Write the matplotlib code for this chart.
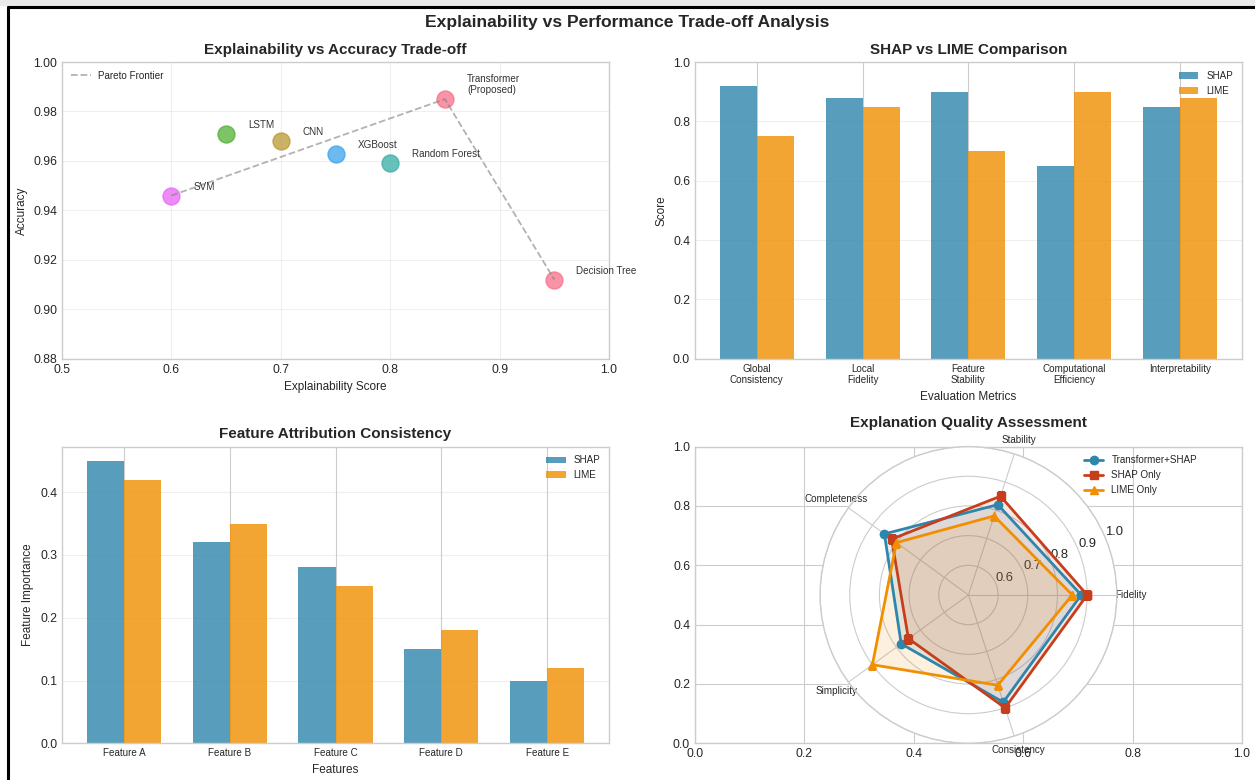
import numpy as np
import matplotlib
matplotlib.use('Agg')
import matplotlib.pyplot as plt
from matplotlib.lines import Line2D
from matplotlib.patches import Rectangle

# Model trade-off data
models = ['Transformer\n(Proposed)', 'CNN', 'LSTM', 'Random Forest', 'XGBoost', 'SVM', 'Decision Tree']
explainability = [0.85, 0.70, 0.65, 0.80, 0.75, 0.60, 0.95]
accuracy = [0.985, 0.968, 0.971, 0.959, 0.963, 0.946, 0.912]
pareto_models = ['SVM', 'Transformer\n(Proposed)', 'Decision Tree']

# SHAP vs LIME metrics
metrics = ['Global\nConsistency', 'Local\nFidelity', 'Feature\nStability',
           'Computational\nEfficiency', 'Interpretability']
shap_scores = [0.92, 0.88, 0.90, 0.65, 0.85]
lime_scores = [0.75, 0.85, 0.70, 0.90, 0.88]

# Feature attribution
features = ['Feature A', 'Feature B', 'Feature C', 'Feature D', 'Feature E']
shap_importance = [0.45, 0.32, 0.28, 0.15, 0.10]
lime_importance = [0.42, 0.35, 0.25, 0.18, 0.12]

# Radar quality assessment
quality_dims = ['Fidelity', 'Stability', 'Completeness', 'Simplicity', 'Consistency']
transformer_shap = [0.88, 0.82, 0.85, 0.78, 0.88]
shap_only = [0.90, 0.85, 0.82, 0.75, 0.90]
lime_only = [0.85, 0.78, 0.80, 0.90, 0.82]

plt.style.use('seaborn-v0_8-whitegrid')
plt.rcParams['font.family'] = ['Liberation Sans', 'DejaVu Sans']

c_shap = '#2E86AB'
c_lime = '#F18F01'
c_red = '#C73E1D'
husl6 = ['#f77189', '#bb9832', '#50b131', '#36ada4', '#3ba3ec', '#e866f4']

TITLE = 11.0
LABEL = 8.5
TICK = 8.8
SMALL = 7.1

fig = plt.figure(figsize=(12.55, 7.80), dpi=100)
fig.subplots_adjust(left=0.0494, right=0.9896, top=0.9205, bottom=0.047,
                    wspace=0.157, hspace=0.296)
fig.suptitle('Explainability vs Performance Trade-off Analysis',
             fontsize=12.6, fontweight='bold', y=0.981)

# (1) scatter with pareto frontier
ax1 = fig.add_subplot(2, 2, 1)
for i, m in enumerate(models):
    ax1.scatter(explainability[i], accuracy[i], s=150, color=husl6[i % len(husl6)], alpha=0.75)
    ax1.annotate(m, (explainability[i], accuracy[i]), xytext=(22, 6),
                 textcoords='offset pixels', fontsize=SMALL, color='#333333')
px = [explainability[models.index(m)] for m in pareto_models]
py = [accuracy[models.index(m)] for m in pareto_models]
ax1.plot(px, py, '--', color='gray', alpha=0.6, linewidth=1.3, label='Pareto Frontier')
ax1.set_xlim(0.5, 1.0)
ax1.set_ylim(0.88, 1.0)
ax1.set_xlabel('Explainability Score', fontsize=LABEL)
ax1.set_ylabel('Accuracy', fontsize=LABEL)
ax1.set_title('Explainability vs Accuracy Trade-off', fontsize=TITLE, fontweight='bold')
ax1.legend(loc='upper left', fontsize=SMALL)
ax1.grid(True, alpha=0.3)
ax1.tick_params(labelsize=TICK)

width = 0.35

# (2) SHAP vs LIME comparison
ax2 = fig.add_subplot(2, 2, 2)
x = np.arange(len(metrics))
ax2.bar(x - width / 2, shap_scores, width, label='SHAP', color=c_shap, alpha=0.8)
ax2.bar(x + width / 2, lime_scores, width, label='LIME', color=c_lime, alpha=0.8)
ax2.set_xticks(x)
ax2.set_xticklabels(metrics, fontsize=SMALL)
ax2.set_ylim(0, 1.0)
ax2.set_xlabel('Evaluation Metrics', fontsize=LABEL)
ax2.set_ylabel('Score', fontsize=LABEL)
ax2.set_title('SHAP vs LIME Comparison', fontsize=TITLE, fontweight='bold')
ax2.legend(loc='upper right', fontsize=SMALL)
ax2.grid(True, alpha=0.3, axis='y')
ax2.tick_params(axis='y', labelsize=TICK)

# (3) feature attribution consistency
ax3 = fig.add_subplot(2, 2, 3)
x = np.arange(len(features))
ax3.bar(x - width / 2, shap_importance, width, label='SHAP', color=c_shap, alpha=0.8)
ax3.bar(x + width / 2, lime_importance, width, label='LIME', color=c_lime, alpha=0.8)
ax3.set_xticks(x)
ax3.set_xticklabels(features, fontsize=SMALL)
ax3.set_xlabel('Features', fontsize=LABEL)
ax3.set_ylabel('Feature Importance', fontsize=LABEL)
ax3.set_title('Feature Attribution Consistency', fontsize=TITLE, fontweight='bold')
ax3.legend(loc='upper right', fontsize=SMALL)
ax3.grid(True, alpha=0.3, axis='y')
ax3.tick_params(axis='y', labelsize=TICK)

# (4) radar chart drawn over a plain axes
ax4 = fig.add_subplot(2, 2, 4)
ax4.tick_params(labelsize=TICK)
axp = fig.add_subplot(2, 2, 4, projection='polar')
angles = np.linspace(0, 2 * np.pi, len(quality_dims), endpoint=False).tolist()
angles += angles[:1]
series = [(transformer_shap, 'Transformer+SHAP', c_shap, 'o'),
          (shap_only, 'SHAP Only', c_red, 's'),
          (lime_only, 'LIME Only', c_lime, '^')]
for vals, lab, col, mk in series:
    v = list(vals) + vals[:1]
    axp.plot(angles, v, marker=mk, color=col, linewidth=2, markersize=6, label=lab)
    axp.fill(angles, v, color=col, alpha=0.13)
axp.set_xticks(angles[:-1])
axp.set_xticklabels(quality_dims, fontsize=SMALL)
axp.set_ylim(0.5, 1.0)
axp.set_yticks([0.6, 0.7, 0.8, 0.9, 1.0])
axp.tick_params(axis='y', labelsize=TICK + 0.6)
axp.set_title('Explanation Quality Assessment', fontsize=TITLE, fontweight='bold')
axp.legend(loc='upper right', bbox_to_anchor=(1.3, 1.0), fontsize=SMALL)

# frame around the figure
fig.add_artist(Rectangle((0, 1 - 5 / 780), 1, 5 / 780, transform=fig.transFigure,
                         color='#ebebeb', zorder=0))
fig.add_artist(Line2D([8 / 1255, 1], [1 - 7 / 780, 1 - 7 / 780], transform=fig.transFigure,
                      color='black', linewidth=2.2))
fig.add_artist(Line2D([8 / 1255, 8 / 1255], [0, 1 - 7 / 780], transform=fig.transFigure,
                      color='black', linewidth=2.2))

fig.savefig('out.png', dpi=100)
